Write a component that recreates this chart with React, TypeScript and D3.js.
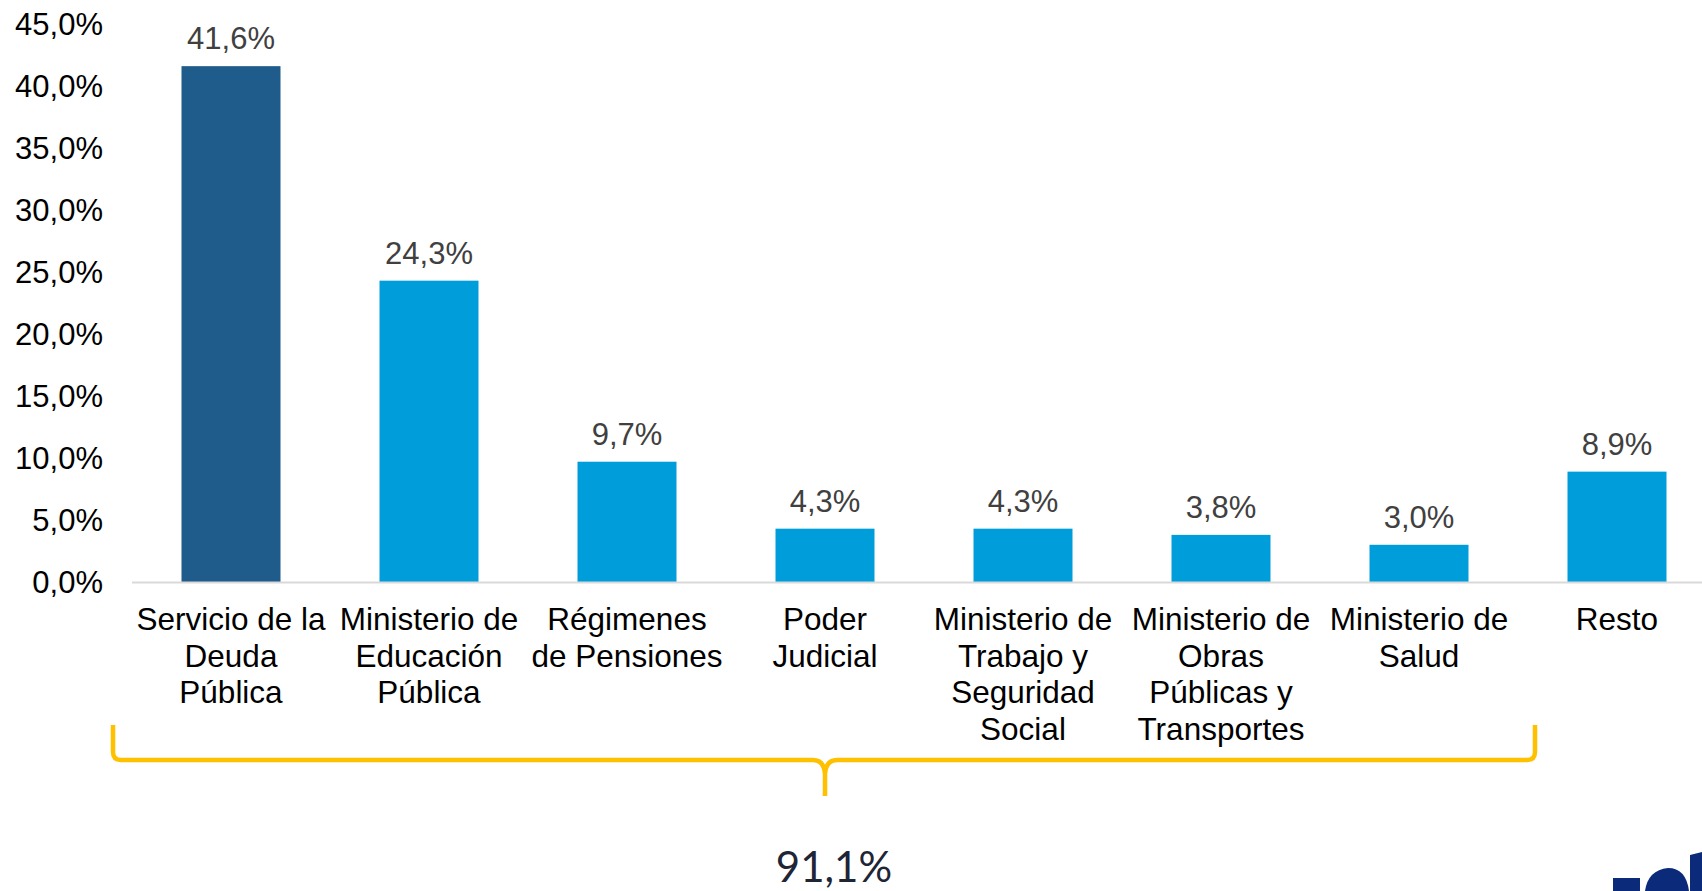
import { useEffect, useRef } from 'react'
import * as d3 from 'd3'

const categories = [
  'Servicio de la|Deuda|Pública',
  'Ministerio de|Educación|Pública',
  'Régimenes|de Pensiones',
  'Poder|Judicial',
  'Ministerio de|Trabajo y|Seguridad|Social',
  'Ministerio de|Obras|Públicas y|Transportes',
  'Ministerio de|Salud',
  'Resto',
]
const shares = [41.6, 24.3, 9.7, 4.3, 4.3, 3.8, 3.0, 8.9]
const yTicks = [0, 5, 10, 15, 20, 25, 30, 35, 40, 45]
const bracketTotal = '91,1%'

const fmt = (v: number) => v.toFixed(1).replace('.', ',') + '%'

export default function App() {
  const ref = useRef<SVGSVGElement | null>(null)

  useEffect(() => {
    if (!ref.current) return
    const width = 1702
    const svg = d3.select(ref.current)
    svg.selectAll('*').remove()

    const x = d3
      .scaleBand<string>()
      .domain(categories)
      .range([132, 132 + 8 * 198])
      .paddingInner(0.5)
      .paddingOuter(0.25)

    const y = d3.scaleLinear().domain([0, 45]).range([582, 24])

    const font = "'Liberation Sans', Arial, sans-serif"

    // y tick labels (no axis line)
    svg
      .append('g')
      .selectAll('text')
      .data(yTicks)
      .join('text')
      .attr('x', 103)
      .attr('y', (d) => y(d) + 11)
      .attr('text-anchor', 'end')
      .style('font-family', font)
      .style('font-size', '31px')
      .style('fill', '#000')
      .text((d) => fmt(d))

    // bars
    svg
      .append('g')
      .selectAll('rect')
      .data(shares)
      .join('rect')
      .attr('x', (_, i) => x(categories[i]) as number)
      .attr('y', (d) => y(d))
      .attr('width', x.bandwidth())
      .attr('height', (d) => y(0) - y(d))
      .attr('fill', (_, i) => (i === 0 ? '#1F5C8B' : '#009DDB'))

    // baseline
    svg
      .append('line')
      .attr('x1', 132)
      .attr('x2', width)
      .attr('y1', y(0) + 0.5)
      .attr('y2', y(0) + 0.5)
      .attr('stroke', '#D9D9D9')
      .attr('stroke-width', 2)

    // value labels
    svg
      .append('g')
      .selectAll('text')
      .data(shares)
      .join('text')
      .attr('x', (_, i) => (x(categories[i]) as number) + x.bandwidth() / 2)
      .attr('y', (d) => y(d) - 17)
      .attr('text-anchor', 'middle')
      .style('font-family', font)
      .style('font-size', '31px')
      .style('fill', '#404040')
      .text((d) => fmt(d))

    // category labels
    const cat = svg
      .append('g')
      .selectAll('text')
      .data(categories)
      .join('text')
      .attr('x', (d) => (x(d) as number) + x.bandwidth() / 2)
      .attr('y', 630)
      .attr('text-anchor', 'middle')
      .style('font-family', font)
      .style('font-size', '31.5px')
      .style('fill', '#000')
    cat
      .selectAll('tspan')
      .data((d) => d.split('|'))
      .join('tspan')
      .attr('x', function () {
        return (this.parentNode as SVGTextElement).getAttribute('x')
      })
      .attr('dy', (_, i) => (i === 0 ? 0 : 36.7))
      .text((d) => d)

    // yellow brace over the first seven categories
    const left = 113
    const right = 1535
    const top = 725
    const mid = 760
    const cx = (left + right) / 2 + 1
    const tip = 796
    const p = d3.path()
    p.moveTo(left, top)
    p.lineTo(left, mid - 8)
    p.quadraticCurveTo(left, mid, left + 8, mid)
    p.lineTo(cx - 12, mid)
    p.quadraticCurveTo(cx - 1, mid, cx, mid + 14)
    p.lineTo(cx, tip)
    p.moveTo(cx, mid + 14)
    p.quadraticCurveTo(cx + 1, mid, cx + 12, mid)
    p.lineTo(right - 8, mid)
    p.quadraticCurveTo(right, mid, right, mid - 8)
    p.lineTo(right, top)
    svg
      .append('path')
      .attr('d', p.toString())
      .attr('fill', 'none')
      .attr('stroke', '#FFC000')
      .attr('stroke-width', 4.5)

    svg
      .append('text')
      .attr('x', 834)
      .attr('y', 882)
      .attr('text-anchor', 'middle')
      .style('font-family', "Lato, 'Open Sans', sans-serif")
      .style('font-size', '42px')
      .style('fill', '#1E2535')
      .text(bracketTotal)

    // partial logo in the corner
    const logo = svg.append('g').attr('fill', '#0B2A7A')
    logo.append('path').attr('d', 'M1613,891 V878 H1640 V891 Z')
    logo.append('path').attr('d', 'M1645,891 Q1648,870 1668,868 Q1686,868 1689,891 Z')
    logo.append('path').attr('d', 'M1690,891 V855 L1702,852 V891 Z')
  }, [])

  return (
    <svg
      ref={ref}
      width={1702}
      height={891}
      style={{ position: 'absolute', left: 0, top: 0, background: '#fff' }}
    />
  )
}
